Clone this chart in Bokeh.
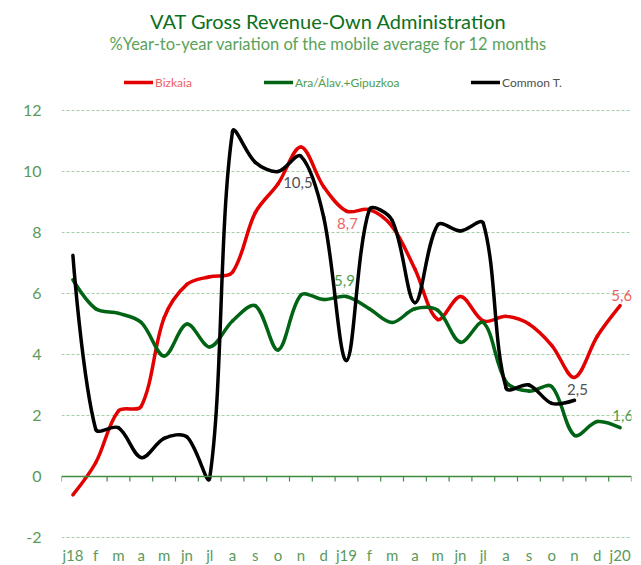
import math
from bokeh.plotting import figure
from bokeh.models import Range1d, FixedTicker, Span, Label, Legend, LegendItem
from bokeh.embed import file_html
from bokeh.resources import INLINE
from bokeh.core.properties import value

# ---------------- data ----------------
TITLE = "VAT Gross Revenue-Own Administration"
SUBTITLE = "%Year-to-year variation of the mobile average for 12 months"

months = ["j18", "f", "m", "a", "m", "jn", "jl", "a", "s", "o", "n", "d",
          "j19", "f", "m", "a", "m", "jn", "jl", "a", "s", "o", "n", "d", "j20"]

series_names = ["Bizkaia", "Ara/Álav.+Gipuzkoa", "Common T."]

bizkaia = [-0.6, 0.45, 2.15, 2.3, 5.2, 6.3, 6.55, 6.7, 8.65, 9.6, 10.8, 9.5,
           8.7, 8.75, 8.2, 6.8, 5.15, 5.9, 5.1, 5.25, 5.0, 4.3, 3.25, 4.6, 5.6]
ara_gipuzkoa = [6.45, 5.5, 5.35, 5.05, 3.95, 5.0, 4.25, 5.1, 5.6, 4.15, 5.95, 5.8,
                5.9, 5.5, 5.05, 5.5, 5.45, 4.4, 5.05, 3.1, 2.8, 2.95, 1.35, 1.8, 1.6]
common_t = [7.25, 1.55, 1.6, 0.62, 1.25, 1.3, -0.05, 11.3, 10.3, 10.0, 10.5, 8.5,
            3.8, 8.75, 8.4, 5.7, 8.25, 8.05, 8.3, 2.9, 3.0, 2.4, 2.5]

y_ticks = [-2, 0, 2, 4, 6, 8, 10, 12]

# points that carry a value label: (series index, month index)
labelled_points = [(2, 10), (0, 12), (1, 12), (0, 24), (2, 22), (1, 24)]

# ---------------- style ----------------
FONT = "Lato"
LINE_COLORS = ["#e30000", "#006414", "#000000"]
LABEL_COLORS = ["#ee5f63", "#4f9d4f", "#505050"]
TITLE_COLOR = "#0d6f20"
SUB_COLOR = "#5aa25a"
TICK_COLOR = "#5a9a5a"
AXIS_COLOR = "#3f8c3f"
GRID_COLOR = "#a3cfa3"

FRAME_W, FRAME_H = 570, 539
PX_Y = 30.5                      # pixels per y unit
Y_TOP = 476 / PX_Y               # value at top of frame
Y_BOT = Y_TOP - FRAME_H / PX_Y
PX_X = FRAME_W / len(months)

p = figure(frame_width=FRAME_W, frame_height=FRAME_H,
           min_border_left=61, min_border_right=2, min_border_top=0, min_border_bottom=18,
           x_range=Range1d(-0.5, len(months) - 0.5), y_range=Range1d(Y_BOT, Y_TOP),
           output_backend="svg", toolbar_location=None)
p.outline_line_color = None
p.background_fill_color = "white"
p.border_fill_color = "white"

# grid
p.xgrid.visible = False
p.ygrid.ticker = FixedTicker(ticks=[t for t in y_ticks if t != 0])
p.ygrid.grid_line_color = GRID_COLOR
p.ygrid.grid_line_dash = "3 2"
p.ygrid.grid_line_width = 1

# y axis
p.yaxis.ticker = FixedTicker(ticks=y_ticks)
p.yaxis.major_label_overrides = {t: str(t) for t in y_ticks}
p.yaxis.axis_line_color = None
p.yaxis.major_tick_line_color = None
p.yaxis.minor_tick_line_color = None
p.yaxis.major_label_standoff = 14
p.yaxis.major_label_text_font = FONT
p.yaxis.major_label_text_font_size = "16px"
p.yaxis.major_label_text_color = TICK_COLOR

# x axis (labels only)
p.xaxis.ticker = FixedTicker(ticks=list(range(len(months))))
p.xaxis.major_label_overrides = {i: m for i, m in enumerate(months)}
p.xaxis.axis_line_color = None
p.xaxis.major_tick_line_color = None
p.xaxis.minor_tick_line_color = None
p.xaxis.major_label_standoff = 0
p.xaxis.major_label_text_font = FONT
p.xaxis.major_label_text_font_size = "15px"
p.xaxis.major_label_text_color = TICK_COLOR

# horizontal axis line at zero with category boundary ticks
p.add_layout(Span(location=0, dimension="width", line_color=AXIS_COLOR, line_width=1.5))
bounds = [i - 0.5 for i in range(len(months) + 1)]
p.segment(x0=bounds, y0=[0] * len(bounds), x1=bounds, y1=[-5 / PX_Y] * len(bounds),
          line_color=AXIS_COLOR, line_width=1.2)


def smooth_segments(ys, t=1 / 3):
    xs = list(range(len(ys)))
    n = len(ys)
    before = [None] * n
    after = [None] * n
    for i in range(n):
        if i == 0 or i == n - 1:
            before[i] = after[i] = (xs[i], ys[i])
            continue
        dp = math.hypot(PX_X * (xs[i] - xs[i - 1]), PX_Y * (ys[i] - ys[i - 1]))
        dn = math.hypot(PX_X * (xs[i + 1] - xs[i]), PX_Y * (ys[i + 1] - ys[i]))
        tx = xs[i + 1] - xs[i - 1]
        ty = ys[i + 1] - ys[i - 1]
        fa = t * dp / (dp + dn)
        fb = t * dn / (dp + dn)
        before[i] = (xs[i] - fa * tx, ys[i] - fa * ty)
        after[i] = (xs[i] + fb * tx, ys[i] + fb * ty)
    seg = dict(x0=[], y0=[], x1=[], y1=[], cx0=[], cy0=[], cx1=[], cy1=[])
    for i in range(n - 1):
        seg["x0"].append(xs[i]); seg["y0"].append(ys[i])
        seg["x1"].append(xs[i + 1]); seg["y1"].append(ys[i + 1])
        seg["cx0"].append(after[i][0]); seg["cy0"].append(after[i][1])
        seg["cx1"].append(before[i + 1][0]); seg["cy1"].append(before[i + 1][1])
    return seg


all_series = [bizkaia, ara_gipuzkoa, common_t]
renderers = []
for ys, col in zip(all_series, LINE_COLORS):
    r = p.bezier(line_color=col, line_width=3.5, line_cap="round", **smooth_segments(ys))
    renderers.append(r)

# legends (one per series so each label keeps its own colour)
legend_x = [63, 203, 410]
for name, r, lc, lx in zip(series_names, renderers, LABEL_COLORS, legend_x):
    lg = Legend(items=[LegendItem(label=name, renderers=[r])], location=(lx, FRAME_H - 90),
                orientation="horizontal", padding=0, margin=0, spacing=0,
                glyph_width=29, glyph_height=16, label_height=16, label_standoff=2,
                label_text_font=FONT, label_text_font_size="12px", label_text_color=lc,
                border_line_color=None, background_fill_alpha=0)
    p.add_layout(lg)

# value labels
label_style = {
    (2, 10): ("center", -3, 26),
    (0, 12): ("center", 1, 12),
    (1, 12): ("center", -2, -16),
    (0, 24): ("right", 12, -10),
    (2, 22): ("center", 3, -11),
    (1, 24): ("right", 13, -12),
}
for si, mi in labelled_points:
    v = all_series[si][mi]
    align, dx, dy = label_style[(si, mi)]
    p.text(x=[mi], y=[v], text=[f"{v:.1f}".replace(".", ",")],
           text_font=value(FONT), text_font_size="15px", text_color=LABEL_COLORS[si],
           text_align=align, text_baseline="middle", x_offset=dx, y_offset=dy)

# titles
p.add_layout(Label(x=267, y=FRAME_H - 20, x_units="screen", y_units="screen", text=TITLE,
                   text_align="center", text_baseline="middle", text_font=FONT,
                   text_font_size="20px", text_color=TITLE_COLOR))
p.add_layout(Label(x=267, y=FRAME_H - 43.5, x_units="screen", y_units="screen", text=SUBTITLE,
                   text_align="center", text_baseline="middle", text_font=FONT,
                   text_font_size="16.5px", text_color=SUB_COLOR))

open("out.html", "w").write(file_html(p, INLINE))
